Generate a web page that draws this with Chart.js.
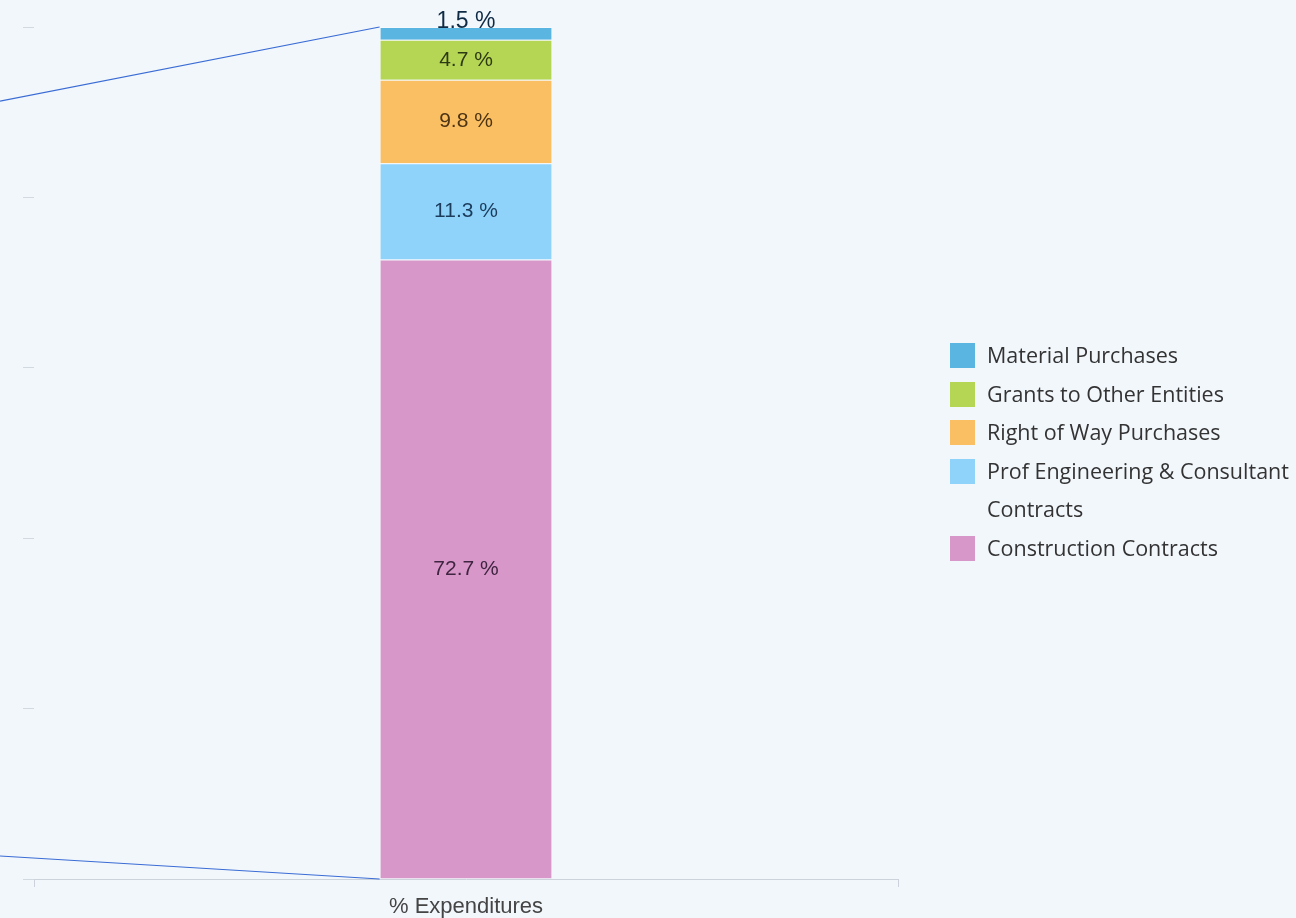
<!DOCTYPE html>
<html>
<head>
<meta charset="utf-8">
<title>% Expenditures</title>
<script src="https://cdn.jsdelivr.net/npm/chart.js@4.4.1/dist/chart.umd.min.js"></script>
<style>
    html, body { margin: 0; padding: 0; background: #f2f7fc; }
    #wrap { position: relative; width: 1296px; height: 918px; overflow: hidden; }
    #legend { position: absolute; left: 950px; top: 336px; width: 360px; }
    #legend ul { list-style: none; margin: 0; padding: 0; }
    #legend li {
        display: flex; align-items: flex-start;
        font: 21.5px "Open Sans", sans-serif; line-height: 38.6px; color: #333;
    }
    #legend .box { flex: none; width: 25px; height: 25px; margin-top: 7px; margin-right: 12px; }
    #legend .txt { width: 314px; }
</style>
</head>
<body>
<div id="wrap">
    <canvas id="canvas" width="1296" height="918"></canvas>
    <div id="legend"></div>
</div>
<script>
// categories and stacked series, bottom segment first
var categories = ['% Expenditures'];
var seriesNames = ['Construction Contracts', 'Prof Engineering & Consultant Contracts', 'Right of Way Purchases', 'Grants to Other Entities', 'Material Purchases'];
var seriesValues = [72.7, 11.3, 9.8, 4.7, 1.5];
var seriesColors = ['#d897c9', '#8fd3fb', '#fbbf63', '#b5d654', '#5bb5e1'];
var labelColors = ['#3f2541', '#1d3c5c', '#4d3414', '#2e3a14', '#0f2a44'];
var yTicks = [0, 20, 40, 60, 80, 100];
// where the two connector lines leave the left edge (in % units)
var connectorFrom = [91.3, 2.7];

var datasets = [];
for (var i = 0; i < seriesNames.length; i++) {
    datasets.push({
        label: seriesNames[i],
        data: [seriesValues[i]],
        backgroundColor: seriesColors[i],
        borderColor: 'rgba(255,255,255,0.35)',
        borderWidth: 1,
        barPercentage: 0.2,
        categoryPercentage: 1
    });
}

// legend list built from the datasets, top segment first
var htmlLegend = {
    id: 'htmlLegend',
    afterUpdate: function (chart) {
        var box = document.getElementById('legend');
        box.innerHTML = '';
        var ul = document.createElement('ul');
        var sets = chart.data.datasets;
        for (var k = sets.length - 1; k >= 0; k--) {
            var li = document.createElement('li');
            var sw = document.createElement('span');
            sw.className = 'box';
            sw.style.background = sets[k].backgroundColor;
            var txt = document.createElement('span');
            txt.className = 'txt';
            txt.textContent = sets[k].label;
            li.appendChild(sw);
            li.appendChild(txt);
            ul.appendChild(li);
        }
        box.appendChild(ul);
    }
};

var connectorLines = {
    id: 'connectorLines',
    afterDatasetsDraw: function (chart) {
        var y = chart.scales.y;
        var bottomBar = chart.getDatasetMeta(0).data[0];
        var x = bottomBar.x - bottomBar.width / 2;
        var ctx = chart.ctx;
        ctx.save();
        ctx.strokeStyle = '#3a6cd4';
        ctx.lineWidth = 1.2;
        ctx.beginPath();
        ctx.moveTo(0, y.getPixelForValue(connectorFrom[0]));
        ctx.lineTo(x, y.getPixelForValue(100));
        ctx.moveTo(0, y.getPixelForValue(connectorFrom[1]));
        ctx.lineTo(x, y.getPixelForValue(0));
        ctx.stroke();
        ctx.restore();
    }
};

var segmentLabels = {
    id: 'segmentLabels',
    afterDatasetsDraw: function (chart) {
        var ctx = chart.ctx;
        ctx.save();
        ctx.textAlign = 'center';
        ctx.textBaseline = 'middle';
        chart.data.datasets.forEach(function (ds, di) {
            var bar = chart.getDatasetMeta(di).data[0];
            var h = Math.abs(bar.base - bar.y);
            var cy = (bar.y + bar.base) / 2;
            if (h < 20) {
                // thin slice: label sits on its top edge
                ctx.font = '23px "Liberation Sans", Arial, sans-serif';
                cy = bar.y - 5;
            } else {
                ctx.font = '21px "Liberation Sans", Arial, sans-serif';
            }
            ctx.fillStyle = labelColors[di];
            ctx.fillText(ds.data[0].toFixed(1) + ' %', bar.x, cy);
        });
        ctx.restore();
    }
};

var ctx = document.getElementById('canvas');
var myChart = new Chart(ctx, {
    type: 'bar',
    data: {
        labels: categories,
        datasets: datasets
    },
    options: {
        responsive: false,
        animation: false,
        devicePixelRatio: 1,
        layout: {
            padding: { top: 27, left: 23, right: 398, bottom: 0 }
        },
        scales: {
            x: {
                stacked: true,
                afterFit: function (scale) {
                    scale.height = 39;
                },
                grid: {
                    display: true,
                    drawOnChartArea: false,
                    tickLength: 8,
                    tickColor: '#ccd3db'
                },
                border: { display: true, color: '#ccd3db' },
                ticks: {
                    padding: 7,
                    color: '#444',
                    font: { family: '"Liberation Sans", Arial, sans-serif', size: 22 }
                }
            },
            y: {
                stacked: true,
                min: yTicks[0],
                max: yTicks[yTicks.length - 1],
                afterBuildTicks: function (scale) {
                    scale.ticks = yTicks.map(function (v) { return { value: v }; });
                },
                grid: {
                    display: true,
                    drawOnChartArea: false,
                    tickLength: 11,
                    tickColor: '#d3d9e0'
                },
                border: { display: false },
                ticks: { display: false }
            }
        },
        plugins: {
            tooltip: { enabled: false },
            legend: { display: false }
        }
    },
    plugins: [htmlLegend, connectorLines, segmentLabels]
});
</script>
</body>
</html>
